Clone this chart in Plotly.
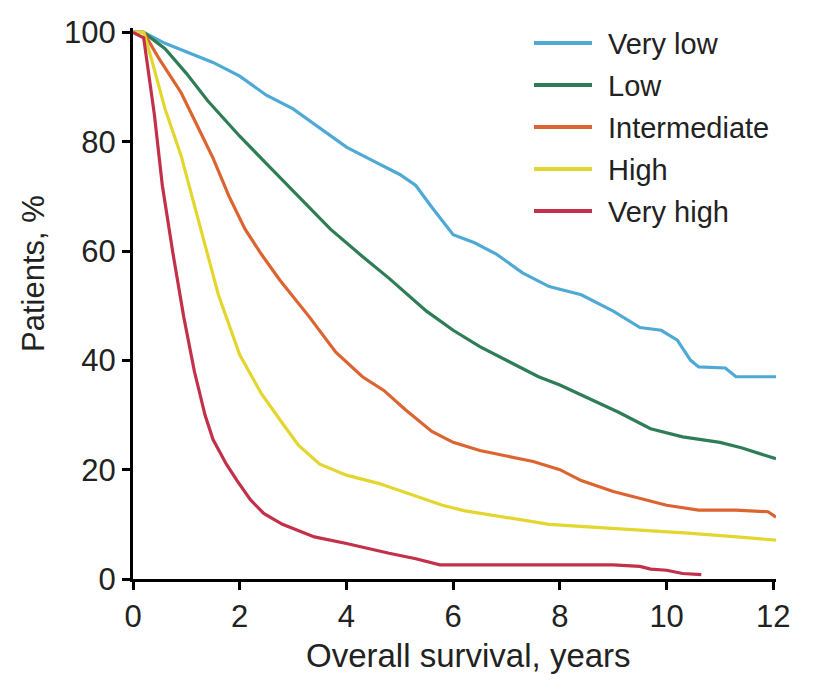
import plotly.graph_objects as go

# Kaplan-Meier style overall survival by risk group
groups = ["Very low", "Low", "Intermediate", "High", "Very high"]
colors = ["#4eaad4", "#2f7d57", "#dc6430", "#e3d62e", "#c2304a"]

very_low_t = [0, 0.2, 0.6, 1.0, 1.5, 2.0, 2.5, 3.0, 3.5, 4.0, 4.5, 5.0, 5.3, 5.6, 6.0, 6.4, 6.8,
              7.3, 7.8, 8.4, 9.0, 9.5, 9.9, 10.2, 10.45, 10.6, 11.1, 11.3, 12.05]
very_low_s = [100, 100, 98, 96.5, 94.5, 92, 88.5, 86, 82.5, 79, 76.5, 74, 72, 68, 63, 61.5, 59.5,
              56, 53.5, 52, 49, 46, 45.5, 43.7, 40, 38.8, 38.6, 37, 37]

low_t = [0, 0.2, 0.6, 1.0, 1.4, 2.0, 2.5, 3.0, 3.7, 4.3, 4.8, 5.5, 6.0, 6.5, 7.0, 7.6, 8.0, 8.6,
         9.1, 9.7, 10.3, 11.0, 11.4, 12.05]
low_s = [100, 100, 97, 92.5, 87.5, 81, 76, 71, 64, 59, 55, 49, 45.5, 42.5, 40, 37, 35.5, 32.7,
         30.5, 27.5, 26, 25, 24, 22]

inter_t = [0, 0.2, 0.5, 0.9, 1.2, 1.5, 1.8, 2.1, 2.4, 2.75, 3.3, 3.8, 4.3, 4.7, 5.1, 5.6, 6.0,
           6.5, 7.0, 7.5, 8.0, 8.4, 9.0, 9.5, 10.0, 10.6, 11.3, 11.9, 12.05]
inter_s = [100, 100, 95, 89, 83, 77, 70, 64, 59.5, 54.7, 48, 41.5, 37, 34.5, 31, 27, 25,
           23.5, 22.5, 21.5, 20, 18, 16, 14.8, 13.5, 12.6, 12.6, 12.3, 11.3]

high_t = [0, 0.2, 0.35, 0.6, 0.9, 1.3, 1.6, 2.0, 2.4, 2.8, 3.1, 3.5, 4.0, 4.6, 5.2, 5.8, 6.2,
          7.0, 7.8, 8.6, 9.5, 10.4, 11.2, 12.05]
high_s = [100, 100, 95, 86, 77.5, 63, 52, 41, 34, 28.5, 24.5, 21, 19, 17.5, 15.5, 13.5, 12.5,
          11.3, 10, 9.5, 9, 8.4, 7.8, 7.1]

very_high_t = [0, 0.2, 0.4, 0.55, 0.75, 0.95, 1.15, 1.35, 1.5, 1.75, 1.95, 2.2, 2.45, 2.8, 3.4,
               4.0, 4.8, 5.3, 5.75, 7.0, 8.0, 9.0, 9.5, 9.7, 10.0, 10.3, 10.65]
very_high_s = [100, 99, 85, 72, 59.5, 48, 38, 30, 25.5, 21, 18, 14.5, 12, 10, 7.7,
               6.5, 4.7, 3.7, 2.6, 2.6, 2.6, 2.6, 2.3, 1.8, 1.6, 1.0, 0.8]

series = [(very_low_t, very_low_s), (low_t, low_s), (inter_t, inter_s),
          (high_t, high_s), (very_high_t, very_high_s)]

x_ticks = [0, 2, 4, 6, 8, 10, 12]
y_ticks = [0, 20, 40, 60, 80, 100]

x_title = "Overall survival, years"
y_title = "Patients, %"

W, H = 821, 693
ML, MR, MT, MB = 133, 45, 28, 114
FONT = "Liberation Sans Narrow, Arial Narrow, Liberation Sans, Arial, sans-serif"


def px_x(p):
    return (p - ML) / (W - ML - MR)


def px_y(p):
    return 1 - (p - MT) / (H - MT - MB)


fig = go.Figure()
for name, color, (t, s) in zip(groups, colors, series):
    fig.add_trace(go.Scatter(x=t, y=s, mode="lines", name=name,
                             line=dict(color=color, width=3.2), showlegend=False))

# Legend drawn as short strokes with labels beside them
legend_rows = [43, 85, 127, 169, 211]
for name, color, row in zip(groups, colors, legend_rows):
    fig.add_shape(type="line", xref="paper", yref="paper",
                  x0=px_x(534), x1=px_x(592), y0=px_y(row), y1=px_y(row),
                  line=dict(color=color, width=4))
    fig.add_annotation(xref="paper", yref="paper", x=px_x(606), y=px_y(row + 1),
                       text=name, showarrow=False, xanchor="left", yanchor="middle",
                       font=dict(family=FONT, size=29, color="#222"))

fig.add_annotation(xref="paper", yref="paper", x=px_x(468), y=px_y(655),
                   text=x_title, showarrow=False,
                   xanchor="center", yanchor="middle",
                   font=dict(family=FONT, size=33, color="#222"))
fig.add_annotation(xref="paper", yref="paper", x=px_x(33), y=px_y(274),
                   text=y_title, showarrow=False, textangle=-90,
                   xanchor="center", yanchor="middle",
                   font=dict(family=FONT, size=31, color="#222"))

axis_common = dict(showline=True, linecolor="black", linewidth=3, ticks="outside",
                   ticklen=8, tickwidth=3, tickcolor="black", showgrid=False,
                   zeroline=False, mirror=False,
                   tickfont=dict(family=FONT, size=31, color="#222"))

fig.update_layout(
    width=W, height=H,
    margin=dict(l=ML, r=MR, t=MT, b=MB),
    paper_bgcolor="white", plot_bgcolor="white",
    xaxis=dict(range=[0, 12.05], tickvals=x_ticks, **axis_common),
    yaxis=dict(range=[0, 100.8], tickvals=y_ticks, **axis_common),
)

fig.write_html("out.html")
